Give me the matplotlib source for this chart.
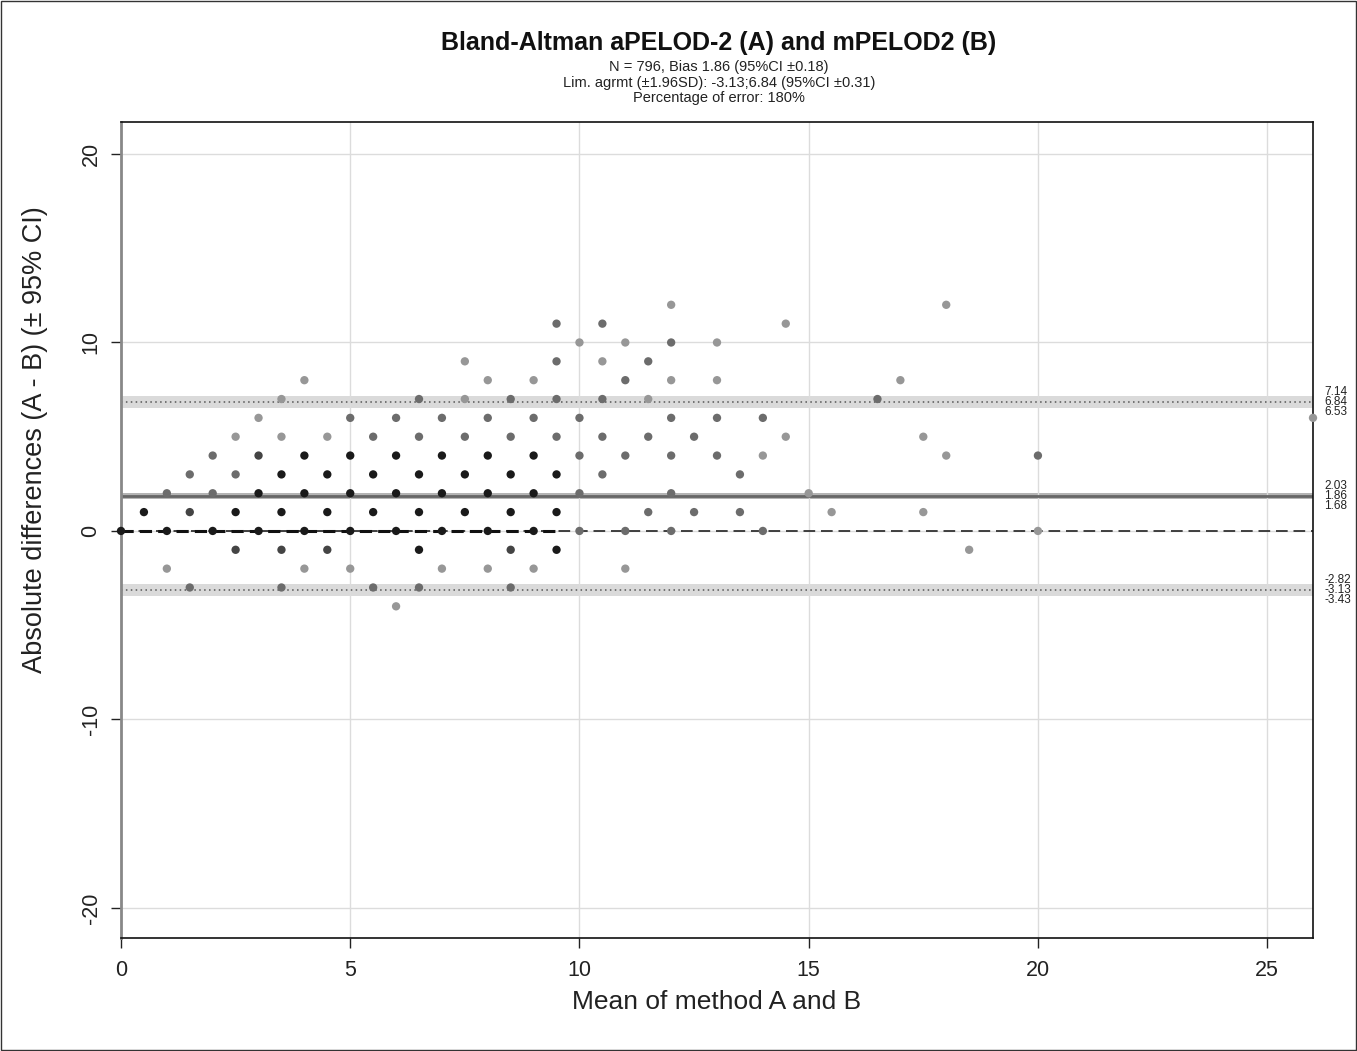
import numpy as np
import matplotlib.pyplot as plt
import matplotlib.transforms as mtransforms
from matplotlib.patches import Rectangle

plt.rcParams['font.family'] = ['Liberation Sans', 'DejaVu Sans']
plt.rcParams['axes.unicode_minus'] = False

# points: mean (x), difference (y), overlap level (1 light .. 4 dark)
pt_x = [12, 18,
        9.5, 10.5, 14.5,
        10, 11, 12, 13,
        7.5, 9.5, 10.5, 11.5,
        4, 8, 9, 11, 12, 13, 17,
        3.5, 6.5, 7.5, 8.5, 9.5, 10.5, 11.5, 16.5,
        3, 5, 6, 7, 8, 9, 10, 12, 13, 14, 26,
        2.5, 3.5, 4.5, 5.5, 6.5, 7.5, 8.5, 9.5, 10.5, 11.5, 12.5, 14.5, 17.5,
        2, 3, 4, 5, 6, 7, 8, 9, 10, 11, 12, 13, 14, 18, 20,
        1.5, 2.5, 3.5, 4.5, 5.5, 6.5, 7.5, 8.5, 9.5, 10.5, 13.5,
        1, 2, 3, 4, 5, 6, 7, 8, 9, 10, 12, 15,
        0.5, 1.5, 2.5, 3.5, 4.5, 5.5, 6.5, 7.5, 8.5, 9.5, 11.5, 12.5, 13.5, 15.5, 17.5,
        0, 1, 2, 3, 4, 5, 6, 7, 8, 9, 10, 11, 12, 14, 20,
        2.5, 3.5, 4.5, 6.5, 8.5, 9.5, 18.5,
        1, 4, 5, 7, 8, 9, 11,
        1.5, 3.5, 5.5, 6.5, 8.5,
        6]
pt_y = [12, 12,
        11, 11, 11,
        10, 10, 10, 10,
        9, 9, 9, 9,
        8, 8, 8, 8, 8, 8, 8,
        7, 7, 7, 7, 7, 7, 7, 7,
        6, 6, 6, 6, 6, 6, 6, 6, 6, 6, 6,
        5, 5, 5, 5, 5, 5, 5, 5, 5, 5, 5, 5, 5,
        4, 4, 4, 4, 4, 4, 4, 4, 4, 4, 4, 4, 4, 4, 4,
        3, 3, 3, 3, 3, 3, 3, 3, 3, 3, 3,
        2, 2, 2, 2, 2, 2, 2, 2, 2, 2, 2, 2,
        1, 1, 1, 1, 1, 1, 1, 1, 1, 1, 1, 1, 1, 1, 1,
        0, 0, 0, 0, 0, 0, 0, 0, 0, 0, 0, 0, 0, 0, 0,
        -1, -1, -1, -1, -1, -1, -1,
        -2, -2, -2, -2, -2, -2, -2,
        -3, -3, -3, -3, -3,
        -4]
pt_level = [1, 1,
            2, 2, 1,
            1, 1, 2, 1,
            1, 2, 1, 2,
            1, 1, 1, 2, 1, 1, 1,
            1, 2, 1, 2, 2, 2, 1, 2,
            1, 2, 2, 2, 2, 2, 2, 2, 2, 2, 1,
            1, 1, 1, 2, 2, 2, 2, 2, 2, 2, 2, 1, 1,
            2, 3, 4, 4, 4, 4, 4, 4, 2, 2, 2, 2, 1, 1, 2,
            2, 2, 4, 4, 4, 4, 4, 4, 4, 2, 2,
            2, 2, 4, 4, 4, 4, 4, 4, 4, 2, 2, 1,
            4, 3, 4, 4, 4, 4, 4, 4, 4, 4, 2, 2, 2, 1, 1,
            4, 4, 4, 4, 4, 4, 4, 4, 4, 4, 2, 2, 2, 2, 1,
            3, 3, 3, 4, 3, 4, 1,
            1, 1, 1, 1, 1, 1, 1,
            2, 2, 2, 2, 2,
            1]

bias = 1.86
bias_ci = (1.68, 2.03)
loa_upper = 6.84
loa_upper_ci = (6.53, 7.14)
loa_lower = -3.13
loa_lower_ci = (-3.43, -2.82)

x_ticks = [0, 5, 10, 15, 20, 25]
y_ticks = [-20, -10, 0, 10, 20]

level_colors = {1: '#979797', 2: '#6c6c6c', 3: '#444444', 4: '#1a1a1a'}

fig = plt.figure(figsize=(13.57, 10.51), dpi=100)
ax = fig.add_axes([121/1357, 1-938/1051, (1313-121)/1357, (938-122)/1051])

ax.set_xlim(0, 26)
ax.set_ylim(-21.6, 21.7)
ax.set_axisbelow(True)
ax.grid(color='#dcdcdc', lw=1)

# confidence bands
ax.axhspan(*loa_upper_ci, color='#dadada', lw=0, zorder=0.3)
ax.axhspan(*loa_lower_ci, color='#dadada', lw=0, zorder=0.3)
ax.axhspan(*bias_ci, color='#b4b4b4', lw=0, zorder=0.3)

ax.axhline(loa_upper, color='#555555', lw=1.1, ls=(0, (1, 2.2)), zorder=1)
ax.axhline(loa_lower, color='#555555', lw=1.1, ls=(0, (1, 2.2)), zorder=1)
ax.axhline(bias, color='#666666', lw=2, zorder=1)

# zero line
ax.axhline(0, color='#222222', lw=1.2, dashes=(7, 3.5), zorder=1)
ax.plot([0, 9.6], [0, 0], color='#111111', lw=2.2, dashes=(4, 2), zorder=1)
ax.plot([0, 0], [-1.2, 1.1], color='#333333', lw=1.6, zorder=1)

cols = [level_colors[l] for l in pt_level]
ax.scatter(pt_x, pt_y, s=36, c=cols, edgecolors='none', zorder=3, clip_on=False)

# value labels to the right
trans = mtransforms.blended_transform_factory(ax.transAxes, ax.transData)
for val, (lo, hi) in [(loa_upper, loa_upper_ci), (bias, bias_ci), (loa_lower, loa_lower_ci)]:
    for v, off in [(hi, 7.2), (val, 0), (lo, -7.2)]:
        ax.annotate(f'{v:.2f}', xy=(1.0, val), xycoords=trans,
                    xytext=(8, off), textcoords='offset points',
                    fontsize=8.5, ha='left', va='center', color='#222222')

ax.set_xticks(x_ticks)
ax.set_yticks(y_ticks)
ax.tick_params(axis='both', labelsize=15.5, length=7, width=1, direction='out', colors='#222222')
ax.tick_params(axis='x', pad=9)
ax.tick_params(axis='y', pad=7)
for lab in ax.get_yticklabels():
    lab.set_rotation(90)
    lab.set_va('center')

for s in ax.spines.values():
    s.set_color('#111111')
    s.set_linewidth(1.2)
ax.spines['left'].set_color('#888888')
ax.spines['left'].set_linewidth(2)

fig.text(35/1357, 1-440/1051, 'Absolute differences (A - B) (\u00b1 95% CI)',
         rotation=90, ha='center', va='center', fontsize=19.5, color='#222222')
fig.text(717/1357, 1-1002/1051, 'Mean of method A and B',
         ha='center', va='center', fontsize=19, color='#222222')

fig.text(719/1357, 1-43/1051, 'Bland-Altman aPELOD-2 (A) and mPELOD2 (B)',
         ha='center', va='center', fontsize=18, fontweight='bold', color='#111111')
fig.text(719/1357, 1-67/1051, 'N = 796, Bias 1.86 (95%CI \u00b10.18)',
         ha='center', va='center', fontsize=10.5, color='#222222')
fig.text(719/1357, 1-83/1051, 'Lim. agrmt (\u00b11.96SD): -3.13;6.84 (95%CI \u00b10.31)',
         ha='center', va='center', fontsize=10.5, color='#222222')
fig.text(719/1357, 1-98/1051, 'Percentage of error: 180%',
         ha='center', va='center', fontsize=10.5, color='#222222')

fig.patches.append(Rectangle((0.0005, 0.0005), 0.999, 0.999, transform=fig.transFigure,
                             fill=False, edgecolor='#333333', lw=1))

plt.savefig('out.png', dpi=100)
